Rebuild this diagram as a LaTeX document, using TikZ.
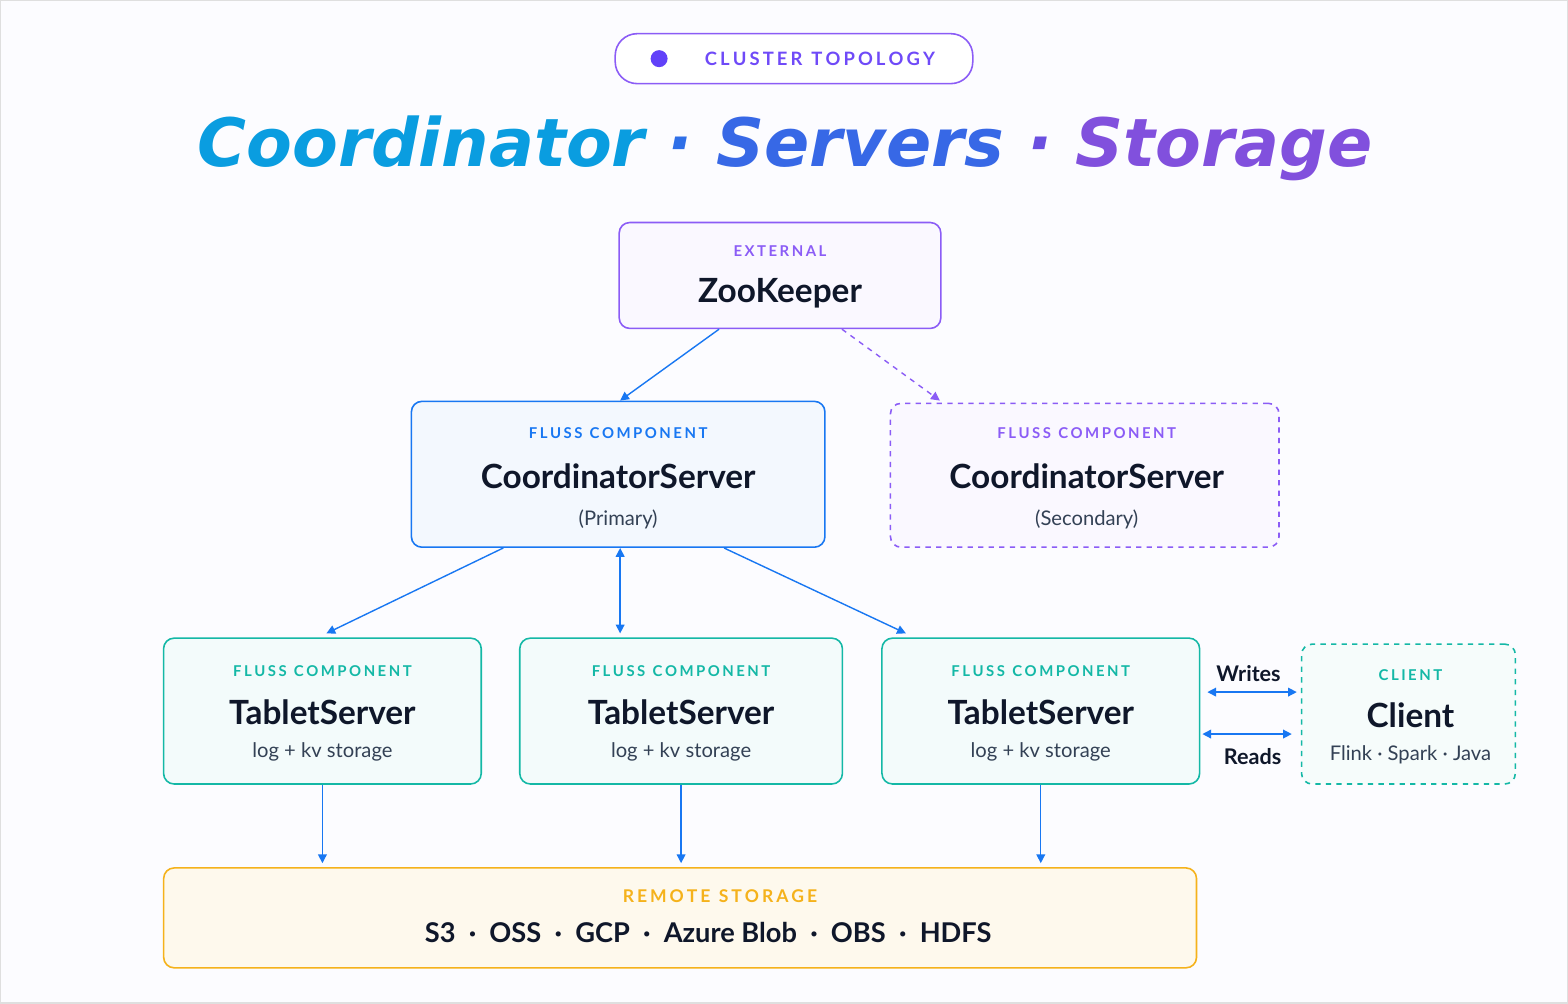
\documentclass[tikz,border=0pt]{standalone}
\usepackage{fontspec}
\setmainfont{Lato}
\newfontfamily\titlefont{DejaVu Sans}
\usetikzlibrary{arrows.meta,calc}
\definecolor{cblue}{HTML}{1877F2}
\definecolor{cpurple}{HTML}{8B5CF6}
\definecolor{cteal}{HTML}{14B8A6}
\definecolor{camber}{HTML}{F5B21B}
\definecolor{cnavy}{HTML}{0F172A}
\definecolor{cgray}{HTML}{334155}
\tikzset{
  box/.style = {draw, rounded corners=6pt, line width=0.9pt},
  tag/.style = {font=\bfseries\fontsize{8.5}{10}\selectfont, text=#1},
  big/.style = {font=\bfseries\fontsize{19}{22}\selectfont, text=cnavy},
  sub/.style = {font=\fontsize{11.5}{14}\selectfont, text=cgray},
  arr/.style = {-{Triangle[length=5pt,width=5pt]}, cblue, line width=0.8pt},
  biarr/.style = {{Triangle[length=5pt,width=5pt]}-{Triangle[length=5pt,width=5pt]}, cblue, line width=0.8pt}
}
\begin{document}
\begin{tikzpicture}[x=0.02cm,y=-0.02cm]
	\fill[white!60!blue!3, draw=gray!25, line width=0.8pt] (0,0) rectangle (1568,1003);
	\useasboundingbox (0,0) rectangle (1568,1003);
	% header
	\node[box, draw=cpurple, fill=white, rounded corners=12.5pt, minimum width=7.16cm, minimum height=1cm] (pill) at (794,58) {};
	\fill[cpurple!70!blue] (659,58) circle (0.17cm);
	\node[tag=cpurple!80!blue, font=\bfseries\fontsize{10.5}{12}\selectfont] (pilltext) at (820,58) {C\,L\,U\,S\,T\,E\,R\ \ T\,O\,P\,O\,L\,O\,G\,Y};
	\node[font=\titlefont\bfseries\itshape\fontsize{38}{44}\selectfont] (title) at (785,148)
		{\textcolor[HTML]{0A9DE0}{Coordinator} \textcolor[HTML]{2F6FE8}{·} \textcolor[HTML]{3768E6}{Servers} \textcolor[HTML]{6A4FE0}{·} \textcolor[HTML]{8150DD}{Storage}};
	% boxes
	\node[box, draw=cpurple, fill=cpurple!4, minimum width=6.44cm, minimum height=2.12cm] (zk) at (780,275) {};
	\node[tag=cpurple] at (780,251) {E\,X\,T\,E\,R\,N\,A\,L};
	\node[big] at (780,293) {ZooKeeper};
	\node[box, draw=cblue, fill=cblue!5, minimum width=8.28cm, minimum height=2.92cm] (cs1) at (618,474) {};
	\node[tag=cblue] at (618,433) {F\,L\,U\,S\,S\ \ C\,O\,M\,P\,O\,N\,E\,N\,T};
	\node[big] at (618,476) {CoordinatorServer};
	\node[sub] at (618,519) {(Primary)};
	\node[box, dashed, draw=cpurple, fill=cpurple!4, minimum width=7.78cm, minimum height=2.88cm] (cs2) at (1085,475) {};
	\node[tag=cpurple] at (1087,433) {F\,L\,U\,S\,S\ \ C\,O\,M\,P\,O\,N\,E\,N\,T};
	\node[big] at (1087,476) {CoordinatorServer};
	\node[sub] at (1087,519) {(Secondary)};
	\foreach \n/\x/\w in {ts1/322/6.36, ts2/681/6.46, ts3/1041/6.36}{
		\node[box, draw=cteal, fill=cteal!5, minimum width=\w cm, minimum height=2.92cm] (\n) at (\x,711) {};
		\node[tag=cteal] at (\x,671) {F\,L\,U\,S\,S\ \ C\,O\,M\,P\,O\,N\,E\,N\,T};
		\node[big] at (\x,712) {TabletServer};
		\node[sub] at (\x,752) {log + kv storage};
	}
	\node[box, dashed, draw=cteal, fill=cteal!4, minimum width=4.28cm, minimum height=2.8cm] (cl) at (1409,714) {};
	\node[tag=cteal] at (1411,675) {C\,L\,I\,E\,N\,T};
	\node[big] at (1411,715) {Client};
	\node[sub] at (1411,755) {Flink · Spark · Java};
	\node[box, draw=camber, fill=camber!8, minimum width=20.68cm, minimum height=2cm] (st) at (680,918) {};
	\node[tag=camber, font=\bfseries\fontsize{10}{12}\selectfont] at (720,896) {R\,E\,M\,O\,T\,E\ \ S\,T\,O\,R\,A\,G\,E};
	\node[big, font=\bfseries\fontsize{15.5}{18}\selectfont] at (708,933) {S3\ \ ·\ \ OSS\ \ ·\ \ GCP\ \ ·\ \ Azure Blob\ \ ·\ \ OBS\ \ ·\ \ HDFS};
	% connectors
	\draw[arr] ($(zk.south)+(-61,0)$) -- ($(cs1.north)+(2,0)$);
	\draw[arr, cpurple, dashed] ($(zk.south)+(62,0)$) -- ($(cs2.north)+(-145,-2)$);
	\draw[arr] ($(cs1.south)+(-115,0)$) -- ($(ts1.north)+(4,-4)$);
	\draw[biarr] ($(cs1.south)+(2,0)$) -- ($(ts2.north)+(-61,-4)$);
	\draw[arr] ($(cs1.south)+(106,0)$) -- ($(ts3.north)+(-135,-4)$);
	\foreach \n in {ts1,ts2,ts3}
		\draw[arr] (\n.south) -- ($(\n.south |- st.north)+(0,-4)$);
	\draw[biarr] ($(ts3.east)+(7,-19)$) coordinate (w1) -- ($(cl.west)+(-4,-22)$) coordinate (w2);
	\draw[biarr] ($(ts3.east)+(2,23)$) coordinate (r1) -- ($(cl.west)+(-9,20)$) coordinate (r2);
	\node[big, font=\bfseries\fontsize{12.3}{14}\selectfont] (wr) at (1249,673) {Writes};
	\node[big, font=\bfseries\fontsize{12.3}{14}\selectfont] (rd) at (1253,757) {Reads};
\end{tikzpicture}
\end{document}
